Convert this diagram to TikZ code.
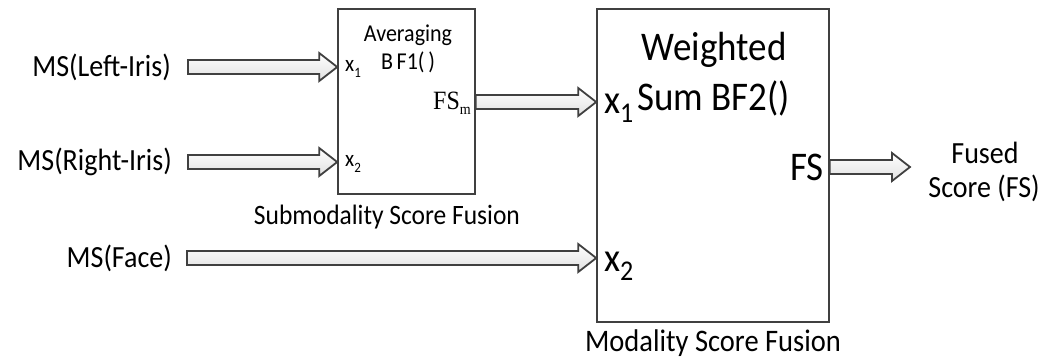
\documentclass[tikz,border=0pt]{standalone}
\usepackage{fontspec}
\usepackage{graphicx}
\setmainfont{Carlito}
\newfontfamily\serifx{Liberation Serif}
\usetikzlibrary{calc}
\definecolor{edge}{HTML}{404040}
\tikzset{
  box/.style={draw=edge, line width=1.6pt, fill=white, inner sep=0pt},
  blockarr/.style={draw=edge, line width=1.8pt, line join=miter, top color=white, bottom color=black!12},
  lbl/.style={inner sep=0pt, text=black},
}
\newcommand\fsz[1]{\fontsize{#1}{#1}\selectfont}
\newcommand\vs[1]{\scalebox{1}[1.1]{#1}}
\newcommand\sbx[2]{\raisebox{-0.22em}{\fsz{#1}#2}}
% block arrow from start point #1 to tip #2 (horizontal, at y of #2)
\newcommand\barrow[2]{%
  \path[blockarr] let \p1=(#1), \p2=(#2) in
    (\x1,\y2+7pt) -- (\x2-18pt,\y2+7pt) -- (\x2-18pt,\y2+14pt) -- (\x2,\y2)
    -- (\x2-18pt,\y2-14pt) -- (\x2-18pt,\y2-7pt) -- (\x1,\y2-7pt) -- cycle;}
\begin{document}
\begin{tikzpicture}[x=1pt,y=-1pt]
\useasboundingbox (0,0) rectangle (1059,360);
% boxes
\node[box, minimum width=137pt, minimum height=185pt] (b1) at (406.5,101.5) {};
\node[box, minimum width=232pt, minimum height=313pt] (b2) at (713,165.5) {};
% left labels
\node[lbl, anchor=east] (l1) at (171,67) {\vs{\fsz{28}MS(Left-Iris)}};
\node[lbl, anchor=east] (l2) at (172,162) {\vs{\fsz{28}MS(Right-Iris)}};
\node[lbl, anchor=east] (l3) at (172,258) {\vs{\fsz{28}MS(Face)}};
% start points
\coordinate (s1) at ($(l1.east)+(17,0)$);
\coordinate (s2) at ($(l2.east)+(16,0)$);
\coordinate (s3) at ($(l3.east)+(15,0)$);
% box ports
\coordinate (p11) at (b1.west |- 0,67);
\coordinate (p12) at (b1.west |- 0,162);
\coordinate (p1o) at (b1.east |- 0,102);
\coordinate (p21) at (b2.west |- 0,102);
\coordinate (p22) at (b2.west |- 0,258);
\coordinate (p2o) at (b2.east |- 0,167);
\coordinate (t2o) at (910,167);
% box 1 texts
\node[lbl] (avg) at (408,35) {\vs{\fsz{22}Averaging}};
\node[lbl] (bf1) at (408,62) {\vs{\fsz{22}B\,F1(\,)}};
\node[lbl, anchor=west] (x11) at (345,69) {\vs{\fsz{21}x\sbx{13}{1}}};
\node[lbl, anchor=west] (x12) at (345,164) {\vs{\fsz{21}x\sbx{13}{2}}};
\node[lbl, anchor=east] (fsm) at (471,103) {\vs{\serifx\fsz{24}FS\raisebox{-0.18em}{\fsz{14}m}}};
\node[lbl] (sub) at (387,217) {\vs{\fsz{25.5}Submodality Score Fusion}};
% box 2 texts
\node[lbl] (w) at (714,50) {\vs{\fsz{37}Weighted}};
\node[lbl, anchor=west] (sum) at (637,98) {\vs{\fsz{37}Sum BF2()}};
\node[lbl, anchor=west] (x21) at (604,108) {\vs{\fsz{37}x\sbx{26}{1}}};
\node[lbl, anchor=west] (x22) at (604,266) {\vs{\fsz{37}x\sbx{26}{2}}};
\node[lbl, anchor=east] (fs) at (824,167) {\vs{\fsz{37}FS}};
\node[lbl] (mod) at (713,343) {\vs{\fsz{28.5}Modality Score Fusion}};
% output label
\node[lbl] (out1) at (985,153) {\vs{\fsz{28}Fused}};
\node[lbl] (out2) at (984,188) {\vs{\fsz{28}Score (FS)}};
% arrows
\barrow{s1}{p11}
\barrow{s2}{p12}
\barrow{s3}{p22}
\barrow{p1o}{p21}
\barrow{p2o}{t2o}
\end{tikzpicture}
\end{document}
